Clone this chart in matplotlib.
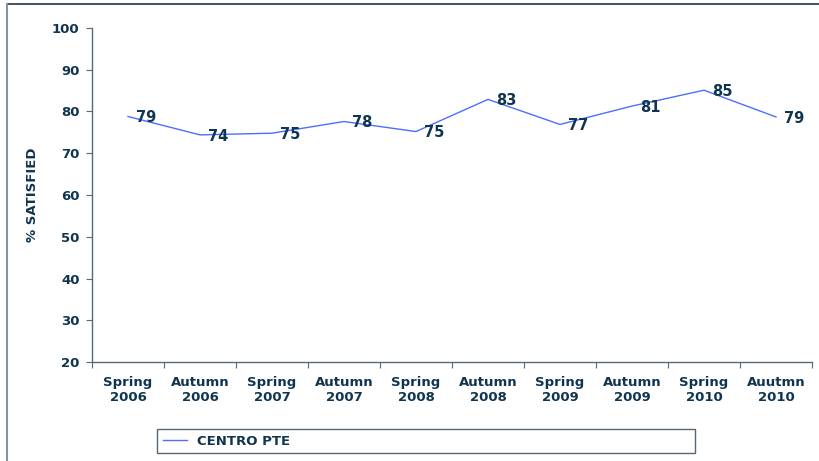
import matplotlib.pyplot as plt
from matplotlib.lines import Line2D
import numpy as np

# survey periods and satisfaction values
periods = ['Spring\n2006', 'Autumn\n2006', 'Spring\n2007', 'Autumn\n2007', 'Spring\n2008',
           'Autumn\n2008', 'Spring\n2009', 'Autumn\n2009', 'Spring\n2010', 'Auutmn\n2010']
satisfied = [78.8, 74.4, 74.8, 77.6, 75.2, 82.9, 76.9, 81.3, 85.1, 78.7]
series_name = 'CENTRO PTE'
yticks = [20, 30, 40, 50, 60, 70, 80, 90, 100]

TEXT = '#0f3550'
LINE = '#4f6dff'
AXIS = '#5a6a75'
FS = 9.5

fig = plt.figure(figsize=(8.19, 4.61), dpi=100)
ax = fig.add_axes([92/819, 1 - 362/461, (812 - 92)/819, (362 - 28)/461])

x = np.arange(len(periods)) + 0.5
ax.plot(x, satisfied, color=LINE, linewidth=1.0)
for xi, v in zip(x, satisfied):
    ax.annotate(f'{v:.0f}', (xi, v), xytext=(6, -1), textcoords='offset points',
                ha='left', va='center', fontsize=10.5, fontweight='bold', color=TEXT)

ax.set_xlim(0, len(periods))
ax.set_ylim(20, 100)
ax.set_yticks(yticks)
ax.set_xticks(np.arange(len(periods) + 1))
ax.set_xticklabels([])
ax.set_xticks(x, minor=True)
ax.set_xticklabels(periods, minor=True)
ax.tick_params(axis='x', which='minor', length=0, pad=10)
ax.tick_params(axis='x', which='major', length=4, color=AXIS)
ax.tick_params(axis='y', length=4, color=AXIS, pad=5)
for lab in ax.get_xticklabels(minor=True) + ax.get_yticklabels():
    lab.set_fontsize(FS)
    lab.set_fontweight('bold')
    lab.set_color(TEXT)

for s in ['top', 'right']:
    ax.spines[s].set_visible(False)
for s in ['left', 'bottom']:
    ax.spines[s].set_color(AXIS)
    ax.spines[s].set_linewidth(1.0)

ax.set_ylabel('% SATISFIED', fontsize=FS, fontweight='bold', color=TEXT, labelpad=9)

# legend box spanning below the axis
handle = Line2D([], [], color=LINE, linewidth=1.0)
leg = fig.legend([handle], [series_name], loc='center',
                 bbox_to_anchor=(157/819, 1 - 454/461, (695 - 157)/819, 26/461),
                 mode='expand', ncol=1, frameon=True, fancybox=False,
                 prop={'size': FS, 'weight': 'bold'}, handlelength=1.8,
                 borderaxespad=0, borderpad=0.45)
leg.get_frame().set_edgecolor('#2c4050')
leg.get_frame().set_linewidth(1.0)
for t in leg.get_texts():
    t.set_color(TEXT)
leg._legend_box.align = 'center'

# outer chart frame (top and left edges visible)
fig.add_artist(Line2D([7/819, 1], [1 - 4/461, 1 - 4/461], transform=fig.transFigure,
                      color='#1f3545', linewidth=1.2))
fig.add_artist(Line2D([7/819, 7/819], [0, 1 - 4/461], transform=fig.transFigure,
                      color='#8595a0', linewidth=1.5))

fig.savefig('out.png', dpi=100)
